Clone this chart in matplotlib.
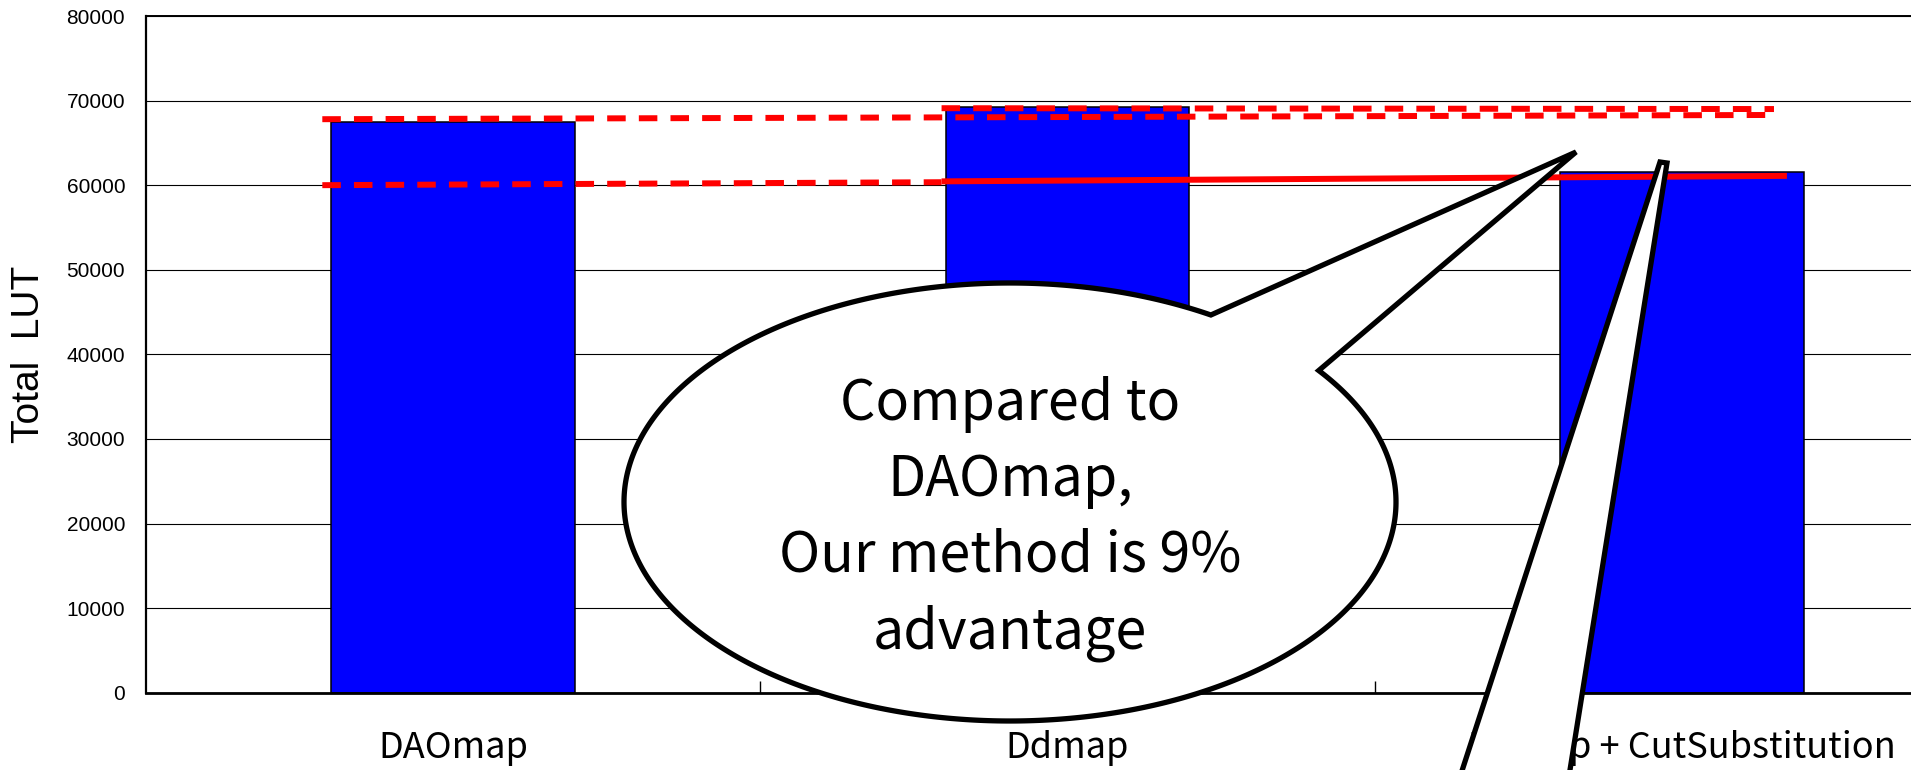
import matplotlib

matplotlib.use("Agg")

import matplotlib.pyplot as plt
import numpy as np
from matplotlib.patches import Polygon
from matplotlib.transforms import Affine2D

W_PX, H_PX, DPI = 1911, 770, 100

categories = ["DAOmap", "Ddmap", "Ddmap + CutSubstitution"]
total_lut = [67500, 69200, 61500]
y_ticks = list(range(0, 80001, 10000))

# hand-drawn comparison levels (x in category units, y in LUT)
dao_level_x = [-0.213, 2.150]
dao_level_y = [67800, 68300]
ddmap_level_x = [0.795, 2.150]
ddmap_level_y = [69100, 69000]
ours_dashed_x = [-0.213, 0.795]
ours_dashed_y = [60000, 60350]
ours_solid_x = [0.795, 2.171]
ours_solid_y = [60450, 61100]

bubble_lines = ["Compared to", "DAOmap,", "Our method is 9%", "advantage"]

BAR_BLUE = "#0000FF"
RED = "#FF0000"
SANS = ["Liberation Sans", "DejaVu Sans"]
GOTHIC = ["Noto Sans CJK JP", "DejaVu Sans"]

plt.rcParams["font.family"] = SANS

fig = plt.figure(figsize=(W_PX / DPI, H_PX / DPI), dpi=DPI)
# plot area runs past the right edge of the canvas
ax = fig.add_axes([146 / W_PX, (H_PX - 692.7) / H_PX, 1843 / W_PX, (692.7 - 16) / H_PX])
px = Affine2D().scale(1 / W_PX, -1 / H_PX).translate(0, 1) + fig.transFigure

x = np.arange(len(categories))
ax.bar(x, total_lut, width=0.397, color=BAR_BLUE, edgecolor="black", linewidth=1.1, zorder=2)

line_kw = dict(color=RED, lw=4.3, zorder=3, solid_capstyle="butt", dash_capstyle="butt")
ax.plot(dao_level_x, dao_level_y, dashes=(3.1, 2.2), **line_kw)
ax.plot(ddmap_level_x, ddmap_level_y, dashes=(3.1, 2.2), **line_kw)
ax.plot(ours_dashed_x, ours_dashed_y, dashes=(3.1, 2.2), **line_kw)
ax.plot(ours_solid_x, ours_solid_y, **line_kw)

ax.set_xlim(-0.5, 2.5)
ax.set_ylim(0, 80000)
ax.set_axisbelow(True)
ax.yaxis.grid(True, color="black", lw=0.8)

ax.set_yticks(y_ticks)
ax.tick_params(axis="y", length=0, pad=15, labelsize=15)
ax.set_xticks(x)
ax.set_xticklabels(categories, fontsize=26, family=GOTHIC)
ax.set_xticks([0.5, 1.5], minor=True)
ax.tick_params(axis="x", which="major", length=0, pad=27)
ax.tick_params(axis="x", which="minor", direction="in", length=8.6, width=1.0)

ax.set_ylabel("Total  LUT", fontsize=28)
ax.yaxis.label.set_va("center")
ax.yaxis.set_label_coords(-0.0635, 0.5)

ax.spines["left"].set_linewidth(1.6)
ax.spines["bottom"].set_linewidth(2.0)
ax.spines["top"].set_linewidth(1.4)
ax.spines["right"].set_visible(False)


def bubble_outline(cx, cy, a, b, base1, base2, tip):
    t1 = np.arctan2((base1[1] - cy) / b, (base1[0] - cx) / a)
    t2 = np.arctan2((base2[1] - cy) / b, (base2[0] - cx) / a)
    ts = np.linspace(t2, t1 + 2 * np.pi, 500)
    pts = np.column_stack([cx + a * np.cos(ts), cy + b * np.sin(ts)])
    return np.vstack([pts, tip])


# speech bubble over the middle bar
outline = bubble_outline(1010, 502, 386, 219, (1213, 313), (1320, 370), (1576, 152))
ax.add_patch(Polygon(outline, closed=True, facecolor="white", edgecolor="black", lw=3.8,
                     joinstyle="miter", transform=px, clip_on=False, zorder=6))

# tail of a second bubble coming up from below the chart
tail = [(1446, 820), (1660, 162), (1667, 163), (1562, 820)]
ax.add_patch(Polygon(tail, closed=True, facecolor="white", edgecolor="black", lw=3.8,
                     joinstyle="miter", transform=px, clip_on=False, zorder=6))

baselines = [420, 496, 572, 648]
for text, yb in zip(bubble_lines, baselines):
    ax.text(1010, yb, text, transform=px, ha="center", va="baseline", fontsize=40,
            family=GOTHIC, zorder=7, clip_on=False)

fig.savefig("out.png", dpi=DPI)
